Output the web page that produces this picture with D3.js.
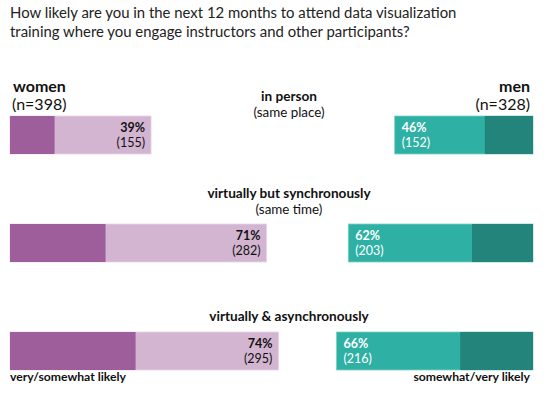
<!DOCTYPE html>
<html>
<head>
<meta charset="utf-8">
<script src="https://cdn.jsdelivr.net/npm/d3@7"></script>
<style>
  body { margin: 0; background: #fff; }
  svg { font-family: Lato, "Open Sans", sans-serif; }
</style>
</head>
<body>
<div id="chart"></div>
<script>
// survey answers, counts of respondents
var categories = ['in person', 'virtually but synchronously', 'virtually & asynchronously'];
var subtitles = ['(same place)', '(same time)', ''];
var womenPct = [39, 71, 74];
var womenLikely = [155, 282, 295];      // very + somewhat likely
var womenVeryLikely = [49, 105, 138];
var menPct = [46, 62, 66];
var menLikely = [152, 203, 216];
var menVeryLikely = [53, 67, 80];
var groups = [{ name: 'women', n: 398 }, { name: 'men', n: 328 }];
var legendLabels = ['very/somewhat likely', 'somewhat/very likely'];
var titleLines = [
    'How likely are you in the next 12 months to attend data visualization',
    'training where you engage instructors and other participants?'
];

var width = 554, height = 397;
var left = 10, right = 533, barH = 38;

var colors = {
    womenDark: '#9e5e9b', womenLight: '#d3b5d2',
    menLight: '#2eb1a4', menDark: '#22847a'
};

var svg = d3.select('#chart').append('svg')
    .attr('width', width)
    .attr('height', height);

// one pixel scale for respondent counts, shared by both sides
var x = d3.scaleLinear().domain([0, 300]).range([0, 273]);
var y = d3.scalePoint().domain(categories).range([116, 332]);

// title
svg.append('text')
    .attr('x', 10)
    .attr('y', 18)
    .attr('fill', '#222')
    .style('font-size', '14.9px')
    .selectAll('tspan')
    .data(titleLines)
    .enter()
    .append('tspan')
    .attr('x', 10)
    .attr('dy', function (d, i) { return i ? 19 : 0; })
    .text(function (d) { return d; });

// group headers
groups.forEach(function (g, i) {
    var t = svg.append('text')
        .attr('text-anchor', i ? 'end' : 'start')
        .attr('fill', '#111')
        .style('font-size', '16px');
    t.append('tspan')
        .attr('x', i ? right - 3 : left + 3)
        .attr('y', 92)
        .style('font-weight', 'bold')
        .text(g.name);
    t.append('tspan')
        .attr('x', i ? right - 3 : left + 2)
        .attr('y', 110)
        .text('(n=' + g.n + ')');
});

// category labels, placed in the gap above each pair
var labelDy = [-15, -26, -11];
var rows = svg.selectAll('g.row')
    .data(categories)
    .enter()
    .append('g')
    .attr('class', 'row')
    .attr('transform', function (d) { return 'translate(0,' + y(d) + ')'; });

rows.append('text')
    .attr('x', 289)
    .attr('y', function (d, i) { return labelDy[i]; })
    .attr('text-anchor', 'middle')
    .attr('fill', '#111')
    .style('font-size', '13.6px')
    .style('font-weight', 'bold')
    .text(function (d) { return d; });

rows.append('text')
    .attr('x', 289)
    .attr('y', function (d, i) { return labelDy[i] + 16; })
    .attr('text-anchor', 'middle')
    .attr('fill', '#111')
    .style('font-size', '13.4px')
    .text(function (d, i) { return subtitles[i]; });

// women bars grow from the left
rows.append('rect')
    .attr('x', left)
    .attr('width', function (d, i) { return x(womenLikely[i]); })
    .attr('height', barH)
    .attr('fill', colors.womenLight)
    .attr('stroke', '#e6d6e6')
    .attr('stroke-width', 0.8);
rows.append('rect')
    .attr('x', left)
    .attr('width', function (d, i) { return x(womenVeryLikely[i]); })
    .attr('height', barH)
    .attr('fill', colors.womenDark);

// men bars grow from the right
rows.append('rect')
    .attr('x', function (d, i) { return right - x(menLikely[i]); })
    .attr('width', function (d, i) { return x(menLikely[i]); })
    .attr('height', barH)
    .attr('fill', colors.menLight)
    .attr('stroke', '#7fd0c6')
    .attr('stroke-width', 0.8);
rows.append('rect')
    .attr('x', function (d, i) { return right - x(menVeryLikely[i]); })
    .attr('width', function (d, i) { return x(menVeryLikely[i]); })
    .attr('height', barH)
    .attr('fill', colors.menDark);

// value labels
rows.each(function (d, i) {
    var row = d3.select(this);
    var wx = left + x(womenLikely[i]) - 6;
    var wt = row.append('text')
        .attr('text-anchor', 'end')
        .attr('fill', '#111')
        .style('font-size', '12.5px');
    wt.append('tspan').attr('x', wx).attr('y', 16)
        .style('font-weight', 'bold').text(womenPct[i] + '%');
    wt.append('tspan').attr('x', wx).attr('y', 31)
        .text('(' + womenLikely[i] + ')');

    var mx = right - x(menLikely[i]) + 7;
    var mt = row.append('text')
        .attr('fill', '#fff')
        .style('font-size', '12.5px');
    mt.append('tspan').attr('x', mx).attr('y', 16)
        .style('font-weight', 'bold').text(menPct[i] + '%');
    mt.append('tspan').attr('x', mx).attr('y', 31)
        .text('(' + menLikely[i] + ')');
});

// legend under the last row
svg.selectAll('text.legend')
    .data(legendLabels)
    .enter()
    .append('text')
    .attr('class', 'legend')
    .attr('x', function (d, i) { return i ? right - 3 : left; })
    .attr('y', y(categories[2]) + barH + 11)
    .attr('text-anchor', function (d, i) { return i ? 'end' : 'start'; })
    .attr('fill', '#111')
    .style('font-size', '12.2px')
    .style('font-weight', 'bold')
    .text(function (d) { return d; });
</script>
</body>
</html>
